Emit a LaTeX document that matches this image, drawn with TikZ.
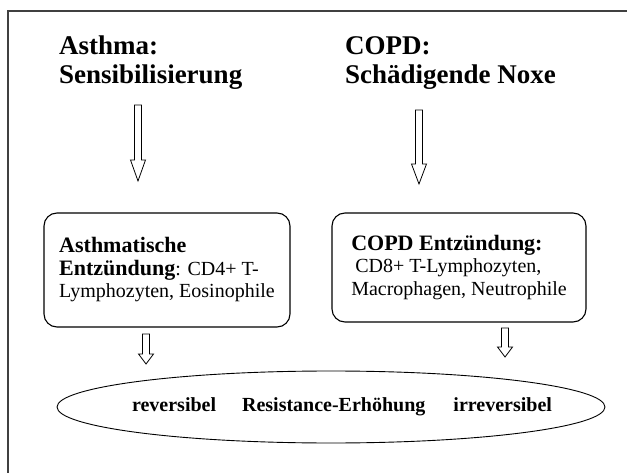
\documentclass[tikz,border=0pt]{standalone}
\usepackage{fontspec}
\setmainfont{Liberation Serif}
\usetikzlibrary{shapes.geometric,calc}

\newcommand{\hollowarrow}[3]{%
  \draw[hollow] let \p1=(#1), \p2=(#2) in
    (\x1-3.5pt,\y1) -- (\x1+3.5pt,\y1) -- (\x1+3.5pt,\y2+#3pt) -- (\x1+7.5pt,\y2+#3pt)
    -- (\x1,\y2) -- (\x1-7.5pt,\y2+#3pt) -- (\x1-3.5pt,\y2+#3pt) -- cycle;}

\begin{document}
\begin{tikzpicture}[x=1pt,y=-1pt,
    title/.style={anchor=north west,inner sep=0,align=left,font=\fontsize{27}{29}\selectfont\bfseries},
    box/.style={draw,line width=1.1,rounded corners=13,align=left,font=\fontsize{20}{22.5}\selectfont},
    hollow/.style={draw,line width=0.8,fill=white}]

                    \useasboundingbox (0,0) rectangle (627,473);
                    \draw[line width=1.2,black!75] (8,473) -- (8,11) -- (627,11);

                    \node (asthma) at (59,36) [title] {Asthma:\\Sensibilisierung};
                    \node (copd) at (345,36) [title] {COPD:\\Schädigende Noxe};

                    \node (asthmabox) at (167,270) [box,minimum width=246,minimum height=114]
                        {{\fontsize{22}{22.5}\selectfont\bfseries Asthmatische}\\{\fontsize{22}{22.5}\selectfont\bfseries Entzündung}: CD4+ T-\\Lymphozyten, Eosinophile};
                    \node (copdbox) at (459,267.5) [box,minimum width=254,minimum height=109]
                        {{\fontsize{22}{22.5}\selectfont\bfseries COPD Entzündung:}\\\hspace{4pt}CD8+ T-Lymphozyten,\\Macrophagen, Neutrophile};

                    \node (resist) at (331,407) [draw,ellipse,line width=0.9,inner sep=0,minimum width=548,minimum height=72,font=\fontsize{20}{22}\selectfont\bfseries]
                        {\makebox[0pt]{\hspace{22pt}reversibel\hspace{26pt}Resistance-Erhöhung\hspace{28pt}irreversibel}};

                    \coordinate (asthmatail) at (138,105);
                    \coordinate (asthmatip) at (138,181);
                    \coordinate (copdtail) at (419,110);
                    \coordinate (copdtip) at (419,184);
                    \coordinate (revtail) at (146,334);
                    \coordinate (revtip) at (146,364);
                    \coordinate (irrevtail) at (505,328);
                    \coordinate (irrevtip) at (505,357);

                    \hollowarrow{asthmatail}{asthmatip}{21}
                    \hollowarrow{copdtail}{copdtip}{20}
                    \hollowarrow{revtail}{revtip}{10}
                    \hollowarrow{irrevtail}{irrevtip}{10}
                \end{tikzpicture}
\end{document}
